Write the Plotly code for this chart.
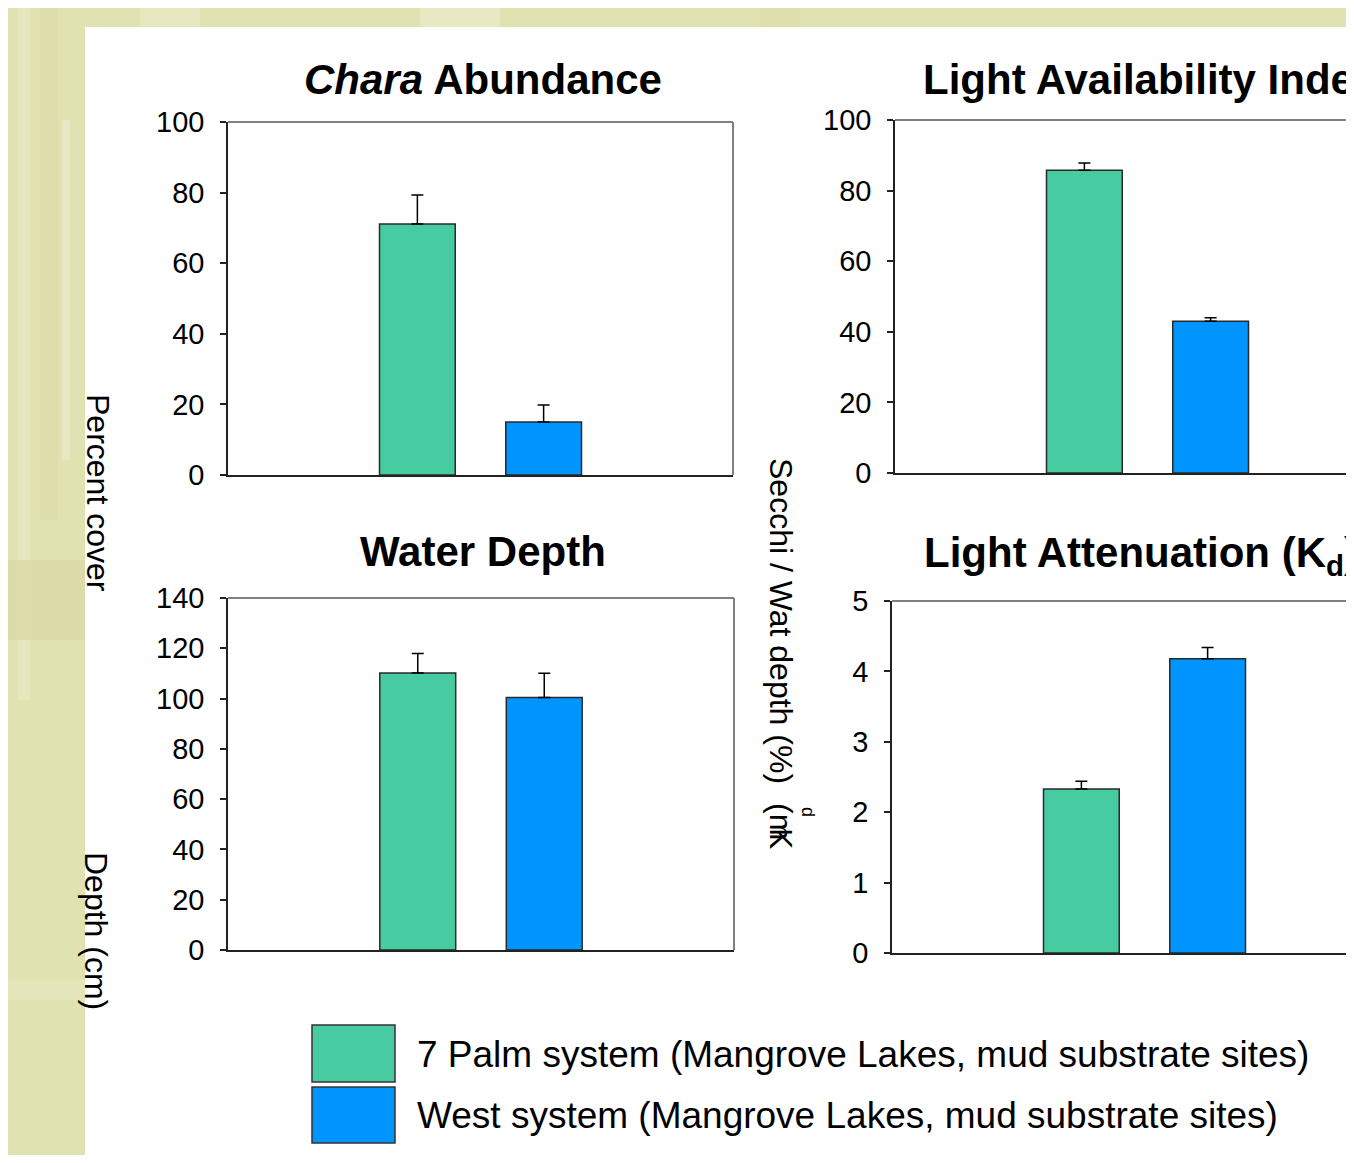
import plotly.graph_objects as go

# ---------------- data ----------------
systems = ["7 Palm system (Mangrove Lakes, mud substrate sites)",
           "West system (Mangrove Lakes, mud substrate sites)"]
short = ["7 Palm", "West"]
colors = ["#47CBA1", "#0094FF"]

abundance = [71.1, 15.0]
abundance_err = [8.2, 4.8]

light_index = [85.8, 43.0]
light_index_err = [2.0, 1.0]

depth = [110.2, 100.4]
depth_err = [7.7, 9.7]

kd = [2.33, 4.18]
kd_err = [0.11, 0.16]

abund_ticks = [0, 20, 40, 60, 80, 100]
index_ticks = [0, 20, 40, 60, 80, 100]
depth_ticks = [0, 20, 40, 60, 80, 100, 120, 140]
kd_ticks = [0, 1, 2, 3, 4, 5]

# page has an 8px body margin; figure sized to fit the window exactly
OFF = 8
W, H = 1354 - 2 * OFF, 1163 - 2 * OFF
FONT = "Liberation Sans, Arial, sans-serif"


def px(x):
    return (x - OFF) / W


def py(y):
    return 1 - (y - OFF) / H


fig = go.Figure()

panels = [
    # (values, errors, ticks, xaxis name, yaxis name, left, right, top, bottom)
    (abundance, abundance_err, abund_ticks, "x", "y", 228, 733, 122, 475),
    (light_index, light_index_err, index_ticks, "x2", "y2", 895, 1400, 120, 473),
    (depth, depth_err, depth_ticks, "x3", "y3", 228, 734, 598, 950),
    (kd, kd_err, kd_ticks, "x4", "y4", 892, 1397, 601, 953),
]

layout_axes = {}
shapes = []
RIGHT_EDGE = W + OFF
for vals, errs, ticks, xa, ya, l, r, t, b in panels:
    fig.add_trace(go.Bar(
        x=short, y=vals, xaxis=xa, yaxis=ya,
        marker=dict(color=colors, line=dict(color="#2a2a2a", width=1.5)),
        width=0.6,
        error_y=dict(type="data", array=errs, arrayminus=[0, 0], symmetric=False,
                     color="black", thickness=1.5, width=6),
        showlegend=False, hoverinfo="skip", cliponaxis=False,
    ))
    vis_r = min(r, RIGHT_EDGE)
    full = 4.0
    rng_hi = -1.5 + full * (vis_r - l) / (r - l)
    xkey = "xaxis" + xa[1:]
    ykey = "yaxis" + ya[1:]
    layout_axes[xkey] = dict(
        domain=[px(l), px(vis_r)], anchor=ya, type="category",
        range=[-1.5, rng_hi], showticklabels=False, ticks="",
        showline=True, linecolor="#222", linewidth=1.5, showgrid=False,
        zeroline=False, fixedrange=True, automargin=False,
    )
    layout_axes[ykey] = dict(
        domain=[py(b), py(t)], anchor=xa, range=[ticks[0], ticks[-1]],
        tickvals=ticks, ticks="outside", ticklen=6, tickwidth=1.5,
        tickcolor="#222", showline=True, linecolor="#222", linewidth=1.5,
        showgrid=False, zeroline=False,
        tickfont=dict(family=FONT, size=29, color="black"),
        ticklabelstandoff=10, fixedrange=True, automargin=False,
    )
    yref = ya + " domain"
    xref = xa + " domain"
    # top frame line (gray)
    shapes.append(dict(type="line", xref=xref, yref=yref, x0=0, x1=1, y0=1, y1=1,
                       line=dict(color="#7f7f7f", width=2)))
    if r <= RIGHT_EDGE:
        shapes.append(dict(type="line", xref=xref, yref=yref, x0=1, x1=1, y0=0, y1=1,
                           line=dict(color="#7f7f7f", width=2)))

# background: olive slide with white panel
bg_shapes = [
    dict(type="rect", xref="paper", yref="paper", x0=0, x1=1, y0=0, y1=1,
         fillcolor="#E1E2B2", line=dict(width=0), layer="below"),
]
streaks = [(18, 30, 8, 700, "#E8E9C2"), (40, 58, 8, 520, "#DCDDA9"),
           (62, 70, 120, 460, "#E9EAC6"), (8, 85, 560, 640, "#DADBA6"),
           (8, 85, 980, 1000, "#E6E7BE"), (140, 200, 8, 27, "#E8E9C3"),
           (420, 500, 8, 27, "#EAEBC6"), (760, 800, 8, 27, "#DDDEAA")]
for x0, x1, y0, y1, c in streaks:
    bg_shapes.append(dict(type="rect", xref="paper", yref="paper",
                          x0=px(x0), x1=px(x1), y0=py(y1), y1=py(y0),
                          fillcolor=c, line=dict(width=0), layer="below", opacity=0.8))
bg_shapes.append(dict(type="rect", xref="paper", yref="paper", x0=px(85), x1=1,
                      y0=0, y1=py(27), fillcolor="white", line=dict(width=0), layer="below"))

# legend swatches
legend_shapes = []
for c, (y0, y1) in zip(colors, [(1025, 1082), (1087, 1143)]):
    legend_shapes.append(dict(type="rect", xref="paper", yref="paper",
                              x0=px(312), x1=px(395), y0=py(y1), y1=py(y0),
                              fillcolor=c, line=dict(color="#333", width=1.5)))

annotations = []


def ann(text, x, y, size, angle=0, xanchor="center", yanchor="middle"):
    annotations.append(dict(text=text, x=px(x), y=py(y), xref="paper", yref="paper",
                            showarrow=False, textangle=angle, xanchor=xanchor,
                            yanchor=yanchor,
                            font=dict(family=FONT, size=size, color="black")))


ann("<b><i>Chara</i> Abundance</b>", 483, 80, 42)
ann("<b>Light Availability Index</b>", 1150, 80, 42)
ann("<b>Water Depth</b>", 483, 551, 42)
ann("<b>Light Attenuation (K<sub>d</sub>)</b>", 1141, 556, 42)

ann("Percent cover", 98, 493, 32, angle=90)
ann("Depth (cm)", 96, 931, 32, angle=90)
ann("Secchi / Wat depth (%)", 781, 621, 32, angle=90)
ann("(m", 781, 821, 32, angle=90)
ann("K", 781, 838, 32, angle=90)
ann("d", 808, 812, 18, angle=90)

ann(systems[0], 415, 1054, 37, xanchor="left")
ann(systems[1], 415, 1115, 37, xanchor="left")

fig.update_layout(
    width=W, height=H, margin=dict(l=0, r=0, t=0, b=0, pad=0, autoexpand=False),
    paper_bgcolor="#E1E2B2", plot_bgcolor="rgba(0,0,0,0)",
    showlegend=False, barmode="overlay",
    shapes=bg_shapes + shapes + legend_shapes,
    annotations=annotations,
    font=dict(family=FONT),
    **layout_axes,
)

fig.write_html("out.html")
